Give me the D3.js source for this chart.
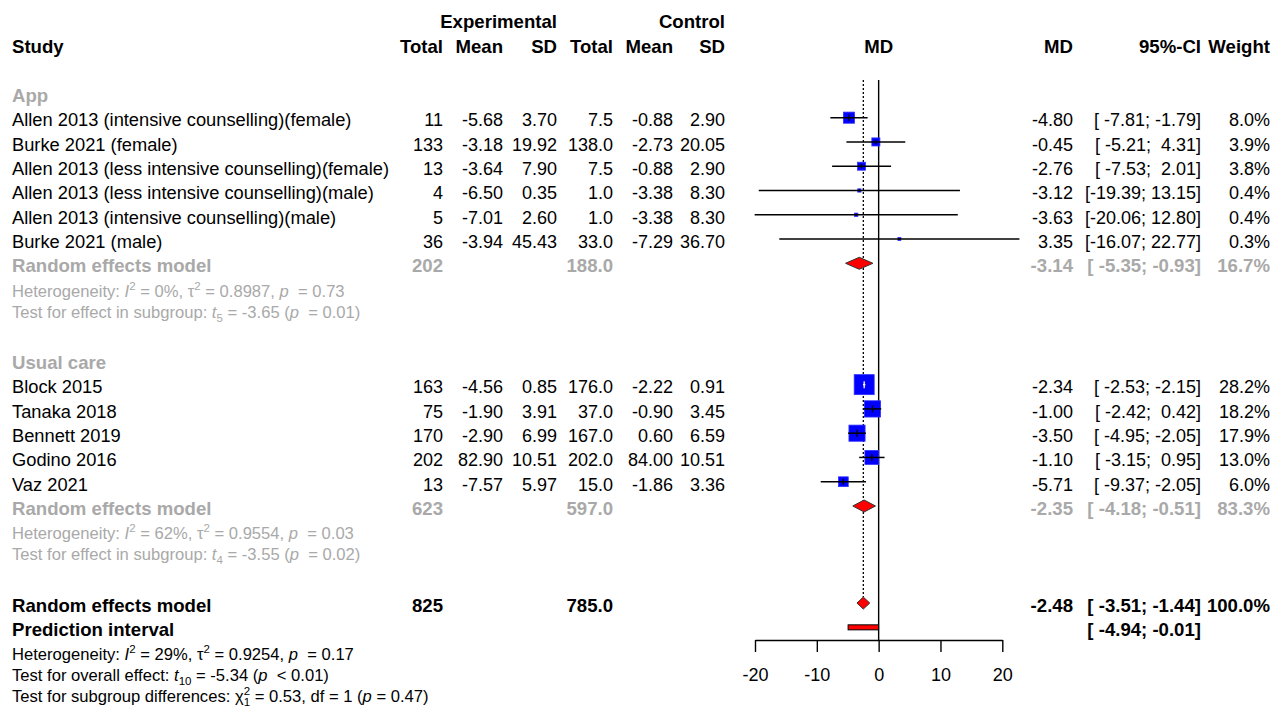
<!DOCTYPE html>
<html>
<head>
<meta charset="utf-8">
<script src="https://cdn.jsdelivr.net/npm/d3@7"></script>
<style>
  body { margin: 0; background: #fff; }
  svg { font-family: "Liberation Sans", Arial, sans-serif; }
  text { white-space: pre; }
</style>
</head>
<body>
<svg id="forest"></svg>
<script>
var width = 1271;
var height = 713;
var grey = '#a9a9a9';

// study level data
var studyLabels = [
  'Allen 2013 (intensive counselling)(female)',
  'Burke 2021 (female)',
  'Allen 2013 (less intensive counselling)(female)',
  'Allen 2013 (less intensive counselling)(male)',
  'Allen 2013 (intensive counselling)(male)',
  'Burke 2021 (male)',
  'Block 2015',
  'Tanaka 2018',
  'Bennett 2019',
  'Godino 2016',
  'Vaz 2021'
];
var studyGroup = [0, 0, 0, 0, 0, 0, 1, 1, 1, 1, 1];
var expTotal = [11, 133, 13, 4, 5, 36, 163, 75, 170, 202, 13];
var expMean = [-5.68, -3.18, -3.64, -6.50, -7.01, -3.94, -4.56, -1.90, -2.90, 82.90, -7.57];
var expSD = [3.70, 19.92, 7.90, 0.35, 2.60, 45.43, 0.85, 3.91, 6.99, 10.51, 5.97];
var ctrlTotal = [7.5, 138.0, 7.5, 1.0, 1.0, 33.0, 176.0, 37.0, 167.0, 202.0, 15.0];
var ctrlMean = [-0.88, -2.73, -0.88, -3.38, -3.38, -7.29, -2.22, -0.90, 0.60, 84.00, -1.86];
var ctrlSD = [2.90, 20.05, 2.90, 8.30, 8.30, 36.70, 0.91, 3.45, 6.59, 10.51, 3.36];
var md = [-4.80, -0.45, -2.76, -3.12, -3.63, 3.35, -2.34, -1.00, -3.50, -1.10, -5.71];
var ciLower = [-7.81, -5.21, -7.53, -19.39, -20.06, -16.07, -2.53, -2.42, -4.95, -3.15, -9.37];
var ciUpper = [-1.79, 4.31, 2.01, 13.15, 12.80, 22.77, -2.15, 0.42, -2.05, 0.95, -2.05];
var weight = [8.0, 3.9, 3.8, 0.4, 0.4, 0.3, 28.2, 18.2, 17.9, 13.0, 6.0];

// subgroup summaries
var groupNames = ['App', 'Usual care'];
var groupExpTotal = [202, 623];
var groupCtrlTotal = [188.0, 597.0];
var groupMD = [-3.14, -2.35];
var groupLower = [-5.35, -4.18];
var groupUpper = [-0.93, -0.51];
var groupWeight = [16.7, 83.3];
var groupI2 = ['0%', '62%'];
var groupTau2 = ['0.8987', '0.9554'];
var groupHetP = ['0.73', '0.03'];
var groupDf = ['5', '4'];
var groupT = ['-3.65', '-3.55'];
var groupTestP = ['= 0.01', '= 0.02'];

// overall
var overallExpTotal = 825;
var overallCtrlTotal = 785.0;
var overallMD = -2.48;
var overallLower = -3.51;
var overallUpper = -1.44;
var overallWeight = 100.0;
var predLower = -4.94;
var predUpper = -0.01;
var overallI2 = '29%';
var overallTau2 = '0.9254';
var overallHetP = '0.17';
var overallDf = '10';
var overallT = '-5.34';
var overallTestP = '< 0.01';
var subgroupChi2 = '0.53';
var subgroupDf = '1';
var subgroupP = '0.47';

var axisTicks = [-20, -10, 0, 10, 20];

var svg = d3.select('#forest')
  .attr('width', width)
  .attr('height', height);

var x = d3.scaleLinear().domain([-20, 20]).range([755, 1002.3]);
var rowY = d3.scaleLinear().domain([0, 1]).range([93.4, 117.67]);
var side = d3.scaleSqrt().domain([0, 28.2]).range([0, 19]);

var col = {
  study: 12, expTotal: 443, expMean: 503, expSD: 557,
  ctrlTotal: 613, ctrlMean: 673, ctrlSD: 725,
  md: 1073, ci: 1201, weight: 1270
};

function ciText(lo, up) {
  return '[' + lo.toFixed(2).padStart(6, ' ') + ';' + up.toFixed(2).padStart(6, ' ') + ']';
}

function txt(xp, y, s, opts) {
  opts = opts || {};
  return svg.append('text')
    .attr('x', xp)
    .attr('y', y)
    .attr('text-anchor', opts.anchor || 'end')
    .attr('font-size', opts.size || (opts.bold ? 18.6 : 18))
    .attr('font-weight', opts.bold ? 'bold' : null)
    .attr('fill', opts.color || '#000')
    .text(s);
}

// rich text with italics, super- and subscripts
function richText(xp, y, parts, color) {
  var t = svg.append('text')
    .attr('x', xp)
    .attr('y', y)
    .attr('font-size', 16.6)
    .attr('fill', color);
  var offset = 0;
  parts.forEach(function(p) {
    var target = p.sup ? -7 : p.sub ? 4 : 0;
    var ts = t.append('tspan')
      .attr('dy', target - offset)
      .attr('fill', color)
      .text(p.t);
    if (p.dx) ts.attr('dx', p.dx);
    if (p.sup || p.sub) ts.attr('font-size', 11.5);
    if (p.i) ts.attr('font-style', 'italic');
    offset = target;
  });
}

// headers
txt(col.study, 53, 'Study', { anchor: 'start', bold: true });
txt(col.expSD, 28, 'Experimental', { bold: true });
txt(col.ctrlSD, 28, 'Control', { bold: true });
[['expTotal', 'Total'], ['expMean', 'Mean'], ['expSD', 'SD'],
 ['ctrlTotal', 'Total'], ['ctrlMean', 'Mean'], ['ctrlSD', 'SD'],
 ['md', 'MD'], ['ci', '95%-CI'], ['weight', 'Weight']].forEach(function(h) {
  txt(col[h[0]], 53, h[1], { bold: true });
});
txt(x(0), 53, 'MD', { anchor: 'middle', bold: true });

// reference lines
svg.append('line')
  .attr('x1', x(0)).attr('x2', x(0))
  .attr('y1', 80).attr('y2', 640)
  .attr('stroke', '#000').attr('stroke-width', 1.4);
svg.append('line')
  .attr('x1', x(overallMD)).attr('x2', x(overallMD))
  .attr('y1', 80).attr('y2', rowY(21) - 6)
  .attr('stroke', '#000').attr('stroke-width', 1.3)
  .attr('stroke-dasharray', '2,2');

function diamond(row, est, lo, up) {
  var y = rowY(row);
  var h = 6;
  svg.append('polygon')
    .attr('points', [[x(lo), y], [x(est), y - h], [x(up), y], [x(est), y + h]].join(' '))
    .attr('fill', '#ff0000')
    .attr('stroke', '#333')
    .attr('stroke-width', 1);
}

var row = 0;
groupNames.forEach(function(g, gi) {
  txt(col.study, rowY(row) + 8.3, g, { anchor: 'start', bold: true, color: grey });
  row++;
  studyLabels.forEach(function(label, i) {
    if (studyGroup[i] !== gi) return;
    var y = rowY(row);
    var b = y + 8.8;
    txt(col.study, b, label, { anchor: 'start', size: 18.3 });
    txt(col.expTotal, b, String(expTotal[i]));
    txt(col.expMean, b, expMean[i].toFixed(2));
    txt(col.expSD, b, expSD[i].toFixed(2));
    txt(col.ctrlTotal, b, ctrlTotal[i].toFixed(1));
    txt(col.ctrlMean, b, ctrlMean[i].toFixed(2));
    txt(col.ctrlSD, b, ctrlSD[i].toFixed(2));
    txt(col.md, b, md[i].toFixed(2));
    txt(col.ci, b, ciText(ciLower[i], ciUpper[i]));
    txt(col.weight, b, weight[i].toFixed(1) + '%');

    var s = 1 + side(weight[i]);
    svg.append('rect')
      .attr('x', x(md[i]) - s / 2)
      .attr('y', y - s / 2)
      .attr('width', s)
      .attr('height', s)
      .attr('fill', '#0000ff')
      .attr('stroke', '#3030ff')
      .attr('stroke-width', 0.8);
    var inside = x(ciLower[i]) > x(md[i]) - s / 2 && x(ciUpper[i]) < x(md[i]) + s / 2;
    var lineCol = inside ? '#fff' : '#000';
    svg.append('line')
      .attr('x1', x(ciLower[i])).attr('x2', x(ciUpper[i]))
      .attr('y1', y).attr('y2', y)
      .attr('stroke', lineCol).attr('stroke-width', 1.5);
    var tick = Math.min(s * 0.55, 7);
    svg.append('line')
      .attr('x1', x(md[i])).attr('x2', x(md[i]))
      .attr('y1', y - tick / 2).attr('y2', y + tick / 2)
      .attr('stroke', lineCol).attr('stroke-width', 1.3);
    row++;
  });

  // subgroup random effects model
  var b = rowY(row) + 8.8;
  var o = { bold: true, color: grey };
  txt(col.study, b, 'Random effects model', { anchor: 'start', bold: true, color: grey });
  txt(col.expTotal, b, String(groupExpTotal[gi]), o);
  txt(col.ctrlTotal, b, groupCtrlTotal[gi].toFixed(1), o);
  txt(col.md, b, groupMD[gi].toFixed(2), o);
  txt(col.ci, b, ciText(groupLower[gi], groupUpper[gi]), o);
  txt(col.weight, b, groupWeight[gi].toFixed(1) + '%', o);
  diamond(row, groupMD[gi], groupLower[gi], groupUpper[gi]);
  row++;

  var hb = rowY(row) + 9;
  richText(col.study, hb, [
    { t: 'Heterogeneity: ' }, { t: 'I', i: true }, { t: '2', sup: true },
    { t: ' = ' + groupI2[gi] + ', \u03C4' }, { t: '2', sup: true },
    { t: ' = ' + groupTau2[gi] + ', ' }, { t: 'p', i: true }, { t: '  = ' + groupHetP[gi] }
  ], grey);
  richText(col.study, hb + 21, [
    { t: 'Test for effect in subgroup: ' }, { t: 't', i: true }, { t: groupDf[gi], sub: true },
    { t: ' = ' + groupT[gi] + ' (' }, { t: 'p', i: true }, { t: '  ' + groupTestP[gi] + ')' }
  ], grey);
  row += 3;
});

// overall
var ob = rowY(row) + 8.8;
var ov = { bold: true };
txt(col.study, ob, 'Random effects model', { anchor: 'start', bold: true });
txt(col.expTotal, ob, String(overallExpTotal), ov);
txt(col.ctrlTotal, ob, overallCtrlTotal.toFixed(1), ov);
txt(col.md, ob, overallMD.toFixed(2), ov);
txt(col.ci, ob, ciText(overallLower, overallUpper), ov);
txt(col.weight, ob, overallWeight.toFixed(1) + '%', ov);
diamond(row, overallMD, overallLower, overallUpper);
row++;

var pb = rowY(row) + 8.8;
txt(col.study, pb, 'Prediction interval', { anchor: 'start', bold: true });
txt(col.ci, pb, ciText(predLower, predUpper), ov);
svg.append('rect')
  .attr('x', x(predLower))
  .attr('y', rowY(row) - 2.5)
  .attr('width', x(predUpper) - x(predLower))
  .attr('height', 5)
  .attr('fill', '#ff0000')
  .attr('stroke', '#000')
  .attr('stroke-width', 1);
row++;

var hb = rowY(row) + 8.4;
richText(col.study, hb, [
  { t: 'Heterogeneity: ' }, { t: 'I', i: true }, { t: '2', sup: true },
  { t: ' = ' + overallI2 + ', \u03C4' }, { t: '2', sup: true },
  { t: ' = ' + overallTau2 + ', ' }, { t: 'p', i: true }, { t: '  = ' + overallHetP }
], '#000');
richText(col.study, hb + 21, [
  { t: 'Test for overall effect: ' }, { t: 't', i: true }, { t: overallDf, sub: true },
  { t: ' = ' + overallT + ' (' }, { t: 'p', i: true }, { t: '  ' + overallTestP + ')' }
], '#000');
richText(col.study, hb + 42, [
  { t: 'Test for subgroup differences: ' }, { t: '\u03C7' }, { t: '2', sup: true },
  { t: subgroupDf, sub: true, dx: -6.4 },
  { t: ' = ' + subgroupChi2 + ', df = ' + subgroupDf + ' (' }, { t: 'p', i: true }, { t: ' = ' + subgroupP + ')' }
], '#000');

// x axis
var axis = svg.append('g')
  .attr('transform', 'translate(0,640)')
  .call(d3.axisBottom(x)
    .tickValues(axisTicks)
    .tickSize(12)
    .tickSizeOuter(0)
    .tickPadding(16)
    .tickFormat(function(d) { return String(d); }));
axis.selectAll('path, line').attr('stroke-width', 1.4);
axis.selectAll('text')
  .attr('font-size', 18)
  .attr('font-family', '"Liberation Sans", Arial, sans-serif');
</script>
</body>
</html>
